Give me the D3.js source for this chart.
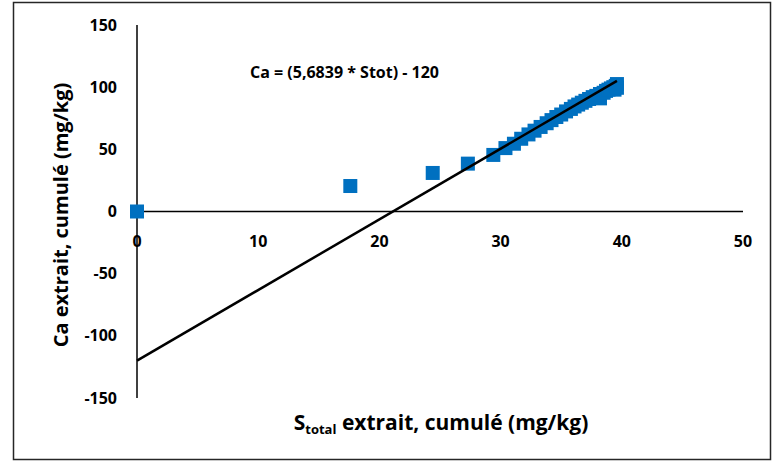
<!DOCTYPE html>
<html>
<head>
<meta charset="utf-8">
<script src="https://cdn.jsdelivr.net/npm/d3@7"></script>
<style>
  body { margin: 0; background: #fff; }
  text { font-family: "Open Sans", "Liberation Sans", sans-serif; fill: #000; }
</style>
</head>
<body>
<div id="chart"></div>
<script>
// measured points (S total, Ca), cumulative
let sTot = [0, 17.6, 24.4, 27.3, 29.4, 30.4, 31.1, 31.7, 32.3, 32.8, 33.3, 33.8, 34.2, 34.6, 35.0,
    35.4, 35.8, 36.1, 36.4, 36.7, 37.0, 37.3, 37.6, 37.9, 38.2, 38.2, 38.5, 38.7, 38.9, 39.1, 39.3,
    39.4, 39.5, 39.6, 39.6];
let caVal = [0, 20.5, 31, 38.5, 45.5, 51, 54.5, 58.5, 62, 65, 68, 71, 73.5, 76, 78,
    80.5, 82.5, 84.5, 86, 87.5, 89, 90.5, 92, 93, 91, 94.5, 95.5, 97, 98, 99, 100,
    98, 101, 102.5, 99.5];

let slope = 5.6839,
    intercept = -120;
let fitRange = [0, 39.6];

let xTicks = [0, 10, 20, 30, 40, 50];
let yTicks = [150, 100, 50, 0, -50, -100, -150];

let width = 774,
    height = 462;

let svg = d3.select('#chart').append('svg')
    .attr('width', width)
    .attr('height', height);

// frame
svg.append('rect')
    .attr('x', 13.5)
    .attr('y', 2.5)
    .attr('width', 757)
    .attr('height', 457)
    .attr('fill', 'none')
    .attr('stroke', '#262626')
    .attr('stroke-width', 1.5);

let x = d3.scaleLinear().domain([0, 50]).range([137, 743]);
let y = d3.scaleLinear().domain([-150, 150]).range([398, 25]);

// tick labels
svg.append('g').selectAll('text')
    .data(xTicks)
    .enter().append('text')
    .attr('x', function(d) { return x(d); })
    .attr('y', y(0) + 35)
    .attr('text-anchor', 'middle')
    .style('font-size', '16px')
    .style('font-weight', 700)
    .text(function(d) { return d; });

svg.append('g').selectAll('text')
    .data(yTicks)
    .enter().append('text')
    .attr('x', 117)
    .attr('y', function(d) { return y(d); })
    .attr('dy', '0.35em')
    .attr('text-anchor', 'end')
    .style('font-size', '16px')
    .style('font-weight', 700)
    .text(function(d) { return d; });

// axes lines
svg.append('line')
    .attr('x1', x(0)).attr('x2', x(0))
    .attr('y1', y(150)).attr('y2', y(-150))
    .attr('stroke', '#000').attr('stroke-width', 1.5);

svg.append('line')
    .attr('x1', x(0)).attr('x2', x(50))
    .attr('y1', y(0)).attr('y2', y(0))
    .attr('stroke', '#000').attr('stroke-width', 1.5);

// points
let pts = sTot.map(function(s, i) { return { s: s, ca: caVal[i] }; });
let size = 14;
svg.append('g').selectAll('rect')
    .data(pts)
    .enter().append('rect')
    .attr('x', function(d) { return x(d.s) - size / 2; })
    .attr('y', function(d) { return y(d.ca) - size / 2; })
    .attr('width', size)
    .attr('height', size)
    .attr('fill', '#0070C0');

// trend line
svg.append('line')
    .attr('x1', x(fitRange[0]))
    .attr('y1', y(slope * fitRange[0] + intercept))
    .attr('x2', x(fitRange[1]))
    .attr('y2', y(slope * fitRange[1] + intercept))
    .attr('stroke', '#000')
    .attr('stroke-width', 2.5);

// equation
svg.append('text')
    .attr('x', 250)
    .attr('y', 78)
    .style('font-size', '16px')
    .style('font-weight', 700)
    .text('Ca = (5,6839 * Stot) - 120');

// axis titles
svg.append('text')
    .attr('transform', 'translate(68,215) rotate(-90)')
    .attr('text-anchor', 'middle')
    .style('font-size', '20px')
    .style('font-weight', 700)
    .text('Ca extrait, cumulé (mg/kg)');

let xt = svg.append('text')
    .attr('x', 441)
    .attr('y', 430)
    .attr('text-anchor', 'middle')
    .style('font-size', '21px')
    .style('font-weight', 700);
xt.append('tspan').text('S');
xt.append('tspan').attr('dy', 4).style('font-size', '13px').text('total');
xt.append('tspan').attr('dy', -4).text(' extrait, cumulé (mg/kg)');
</script>
</body>
</html>
